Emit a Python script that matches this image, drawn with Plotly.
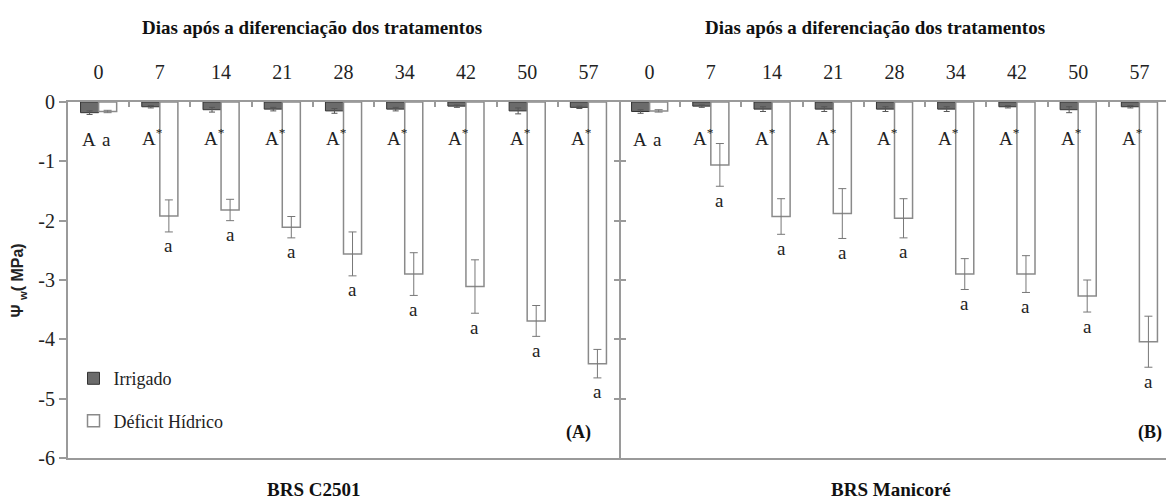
import plotly.graph_objects as go

# ---- data ----
days = ["0", "7", "14", "21", "28", "34", "42", "50", "57"]
cultivars = ["BRS C2501", "BRS Manicoré"]

irrigado_c2501 = [-0.18, -0.08, -0.13, -0.12, -0.15, -0.12, -0.07, -0.15, -0.09]
irrigado_c2501_err = [0.03, 0.02, 0.04, 0.03, 0.04, 0.03, 0.02, 0.05, 0.02]
deficit_c2501 = [-0.16, -1.92, -1.82, -2.11, -2.56, -2.90, -3.11, -3.69, -4.41]
deficit_c2501_err = [0.02, 0.27, 0.18, 0.18, 0.37, 0.36, 0.45, 0.26, 0.24]

irrigado_manicore = [-0.16, -0.07, -0.12, -0.12, -0.12, -0.12, -0.08, -0.13, -0.08]
irrigado_manicore_err = [0.03, 0.02, 0.04, 0.04, 0.04, 0.04, 0.02, 0.05, 0.02]
deficit_manicore = [-0.15, -1.06, -1.93, -1.88, -1.96, -2.90, -2.90, -3.27, -4.04]
deficit_manicore_err = [0.02, 0.36, 0.30, 0.42, 0.33, 0.26, 0.31, 0.27, 0.43]

letters_irrigado = ["A", "A*", "A*", "A*", "A*", "A*", "A*", "A*", "A*"]
letters_deficit = ["a", "a", "a", "a", "a", "a", "a", "a", "a"]

y_ticks = [0, -1, -2, -3, -4, -5, -6]
y_ticktext = ["0", "-1", "-2", "-3", "-4", "-5", "-6"]

# ---- build ----
n = len(days)
xs = list(range(2 * n))
irr = irrigado_c2501 + irrigado_manicore
irr_err = irrigado_c2501_err + irrigado_manicore_err
dfc = deficit_c2501 + deficit_manicore
dfc_err = deficit_c2501_err + deficit_manicore_err

SERIF = "Liberation Serif, Times New Roman, serif"
AX = "#9a9a9a"
TXT = "#222222"

fig = go.Figure()
fig.add_trace(go.Bar(
    x=xs, y=irr, name="Irrigado", legendgroup="g1",
    marker=dict(color="#6b6b6b", line=dict(color="#333333", width=1)),
    error_y=dict(type="data", array=irr_err, color="#555555", thickness=1, width=3),
))
fig.add_trace(go.Bar(
    x=xs, y=dfc, name="Déficit Hídrico", legendgroup="g2",
    marker=dict(color="white", line=dict(color="#8a8a8a", width=1.5)),
    error_y=dict(type="data", array=dfc_err, color="#777777", thickness=1, width=4),
))
fig.add_trace(go.Scatter(x=[], y=[], xaxis="x2", showlegend=False, hoverinfo="skip"))
fig.add_trace(go.Scatter(x=[], y=[], yaxis="y2", showlegend=False, hoverinfo="skip"))
fig.add_trace(go.Scatter(x=[], y=[], yaxis="y3", showlegend=False, hoverinfo="skip"))

annotations = []
lf = dict(family=SERIF, size=19, color=TXT)
for i in xs:
    d = i % n
    if d == 0:
        annotations.append(dict(x=i, y=-0.64, text=letters_irrigado[d], xshift=-10,
                                showarrow=False, font=lf))
        annotations.append(dict(x=i, y=-0.64, text=letters_deficit[d], xshift=8,
                                showarrow=False, font=lf))
    else:
        annotations.append(dict(x=i, y=-0.59, text="A<sup>*</sup>", xshift=-7,
                                showarrow=False, font=lf))
        annotations.append(dict(x=i, y=dfc[i] - dfc_err[i], text=letters_deficit[d], xshift=9,
                                yshift=-14, showarrow=False, font=lf))

title_txt = "<b>Dias após a diferenciação dos tratamentos</b>"
pf = dict(family=SERIF, size=19, color="#111111")
for xp in (0.221, 0.732):
    annotations.append(dict(xref="paper", yref="paper", x=xp, y=1.208, xanchor="center",
                            yanchor="middle", text=title_txt, showarrow=False, font=pf))
for xp, lab in zip((0.223, 0.747), cultivars):
    annotations.append(dict(xref="paper", yref="paper", x=xp, y=-0.088, xanchor="center",
                            yanchor="middle", text="<b>%s</b>" % lab, showarrow=False, font=pf))
for xp, lab in zip((0.463, 0.982), ("(A)", "(B)")):
    annotations.append(dict(xref="paper", yref="paper", x=xp, y=0.072, xanchor="center",
                            yanchor="middle", text="<b>%s</b>" % lab, showarrow=False,
                            font=dict(family=SERIF, size=18, color="#111111")))
annotations.append(dict(xref="paper", yref="paper", x=-0.045, y=0.5, xanchor="center",
                        yanchor="middle", text="<b>Ψ <sub>w</sub>( MPa)</b>", textangle=-90,
                        showarrow=False,
                        font=dict(family="Liberation Sans, Arial, sans-serif", size=16, color=TXT)))

boundaries = [i + 0.5 for i in range(2 * n - 1) if i != n - 1]

fig.update_layout(
    width=1166, height=495,
    margin=dict(l=60, r=4, t=94, b=45),
    paper_bgcolor="white", plot_bgcolor="white",
    barmode="group", bargap=0.41, bargroupgap=0,
    font=dict(family=SERIF, size=18, color=TXT),
    xaxis=dict(range=[-0.5, 2 * n - 0.5], side="top", tickmode="array", tickvals=xs,
               ticktext=days + days, ticks="", showline=True, linecolor=AX, linewidth=2,
               mirror=True, showgrid=False, zeroline=False, ticklabelstandoff=13,
               tickfont=dict(family=SERIF, size=20, color=TXT)),
    xaxis2=dict(overlaying="x", side="top", range=[-0.5, 2 * n - 0.5], tickmode="array",
                tickvals=boundaries, ticks="inside", ticklen=5, tickcolor=AX, tickwidth=1.5,
                showticklabels=False, showline=False, showgrid=False, zeroline=False, anchor="y"),
    yaxis=dict(range=[-6, 0], tickmode="array", tickvals=y_ticks, ticktext=y_ticktext,
               ticks="outside", ticklen=7, tickcolor=AX, tickwidth=1.5, showline=True,
               linecolor=AX, linewidth=2, showgrid=False, zeroline=False,
               tickfont=dict(family=SERIF, size=20, color=TXT)),
    yaxis2=dict(overlaying="y", anchor="free", position=0.5009, range=[-6, 0],
                tickmode="array", tickvals=y_ticks[1:-1], ticks="outside", ticklen=5,
                tickcolor=AX, tickwidth=1.5, showticklabels=False, showline=True,
                linecolor=AX, linewidth=1.5, showgrid=False, zeroline=False),
    yaxis3=dict(overlaying="y", anchor="free", position=0.5009, range=[-6, 0],
                tickmode="array", tickvals=y_ticks[1:-1], ticks="inside", ticklen=5,
                tickcolor=AX, tickwidth=1.5, showticklabels=False, showline=False,
                showgrid=False, zeroline=False),
    legend=dict(x=0.005, y=0.275, xanchor="left", yanchor="top", traceorder="grouped",
                tracegroupgap=16, bgcolor="rgba(0,0,0,0)",
                font=dict(family=SERIF, size=18, color=TXT)),
    annotations=annotations,
)

fig.write_html("out.html")
